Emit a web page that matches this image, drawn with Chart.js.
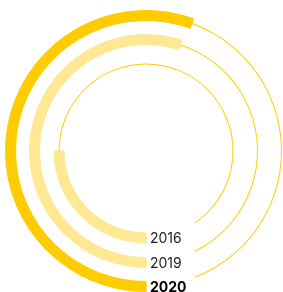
<!DOCTYPE html>
<html>
<head>
<meta charset="utf-8">
<script src="https://cdn.jsdelivr.net/npm/chart.js@4.4.0/dist/chart.umd.min.js"></script>
<style>
    html, body {
        margin: 0;
        padding: 0;
        width: 283px;
        height: 292px;
        overflow: hidden;
        background: #ffffff;
    }
    #ring-chart {
        position: absolute;
        left: 5px;
        top: 10px;
    }
</style>
</head>
<body>
<canvas id="ring-chart" width="282" height="282"></canvas>
<script>
// anos, do anel externo para o interno
const years = ["2020", "2019", "2016"];
// parte preenchida de cada anel (%)
const shares = [55.5, 55, 25];
const barColors = ["#ffcc00", "#ffe894", "#ffe894"];
const lineColor = "#ffcc00";

// cada anel = metade externa + linha fina + metade interna, com espacos entre eles
const datasets = [];
years.forEach((year, i) => {
    const value = shares[i];
    const rest = 100 - value;
    const color = barColors[i];
    ["outer", "line", "inner"].forEach((part) => {
        datasets.push({
            label: year,
            part: part,
            data: [value, rest],
            backgroundColor: [color, part === "line" ? lineColor : "transparent"],
            borderColor: [color, "transparent"],
            borderWidth: [1, 0],
            weight: part === "line" ? 1 : 4.5,
        });
    });
    if (i < years.length - 1) {
        datasets.push({
            label: "",
            part: "gap",
            data: [100],
            backgroundColor: ["transparent"],
            borderColor: ["transparent"],
            borderWidth: [0],
            weight: i === 0 ? 14 : 14.5,
        });
    }
});

// corta o final das linhas finas para abrir espaco para os rotulos
const labelGap = {
    id: "labelGap",
    beforeDatasetsDraw(chart) {
        const arc = chart.getDatasetMeta(0).data[0];
        const ctx = chart.ctx;
        ctx.save();
        ctx.beginPath();
        ctx.rect(0, 0, chart.width, chart.height);
        ctx.rect(arc.x + 1, arc.y, 48, chart.height);
        ctx.clip("evenodd");
    },
    afterDatasetsDraw(chart) {
        chart.ctx.restore();
    },
    afterDraw(chart) {
        const ctx = chart.ctx;
        chart.data.datasets.forEach((ds, index) => {
            if (ds.part !== "line") return;
            const arc = chart.getDatasetMeta(index).data[0];
            const r = (arc.innerRadius + arc.outerRadius) / 2;
            const bold = ds.label === "2020";
            ctx.save();
            ctx.font = (bold ? "bold " : "") + "14px Inter";
            ctx.fillStyle = bold ? "#000000" : "#222222";
            ctx.textBaseline = "middle";
            ctx.textAlign = "left";
            ctx.fillText(ds.label, arc.x + 4, arc.y + r + 1);
            ctx.restore();
        });
    },
};

const ringChart = document.querySelector("#ring-chart").getContext("2d");
const objRingChart = new Chart(ringChart, {
    type: "doughnut",
    data: {
        labels: ["valor", "resto"],
        datasets: datasets,
    },
    options: {
        responsive: false,
        animation: false,
        rotation: 180,
        cutout: 82,
        plugins: {
            legend: { display: false },
            tooltip: { enabled: false },
        },
    },
    plugins: [labelGap],
});
</script>
</body>
</html>
